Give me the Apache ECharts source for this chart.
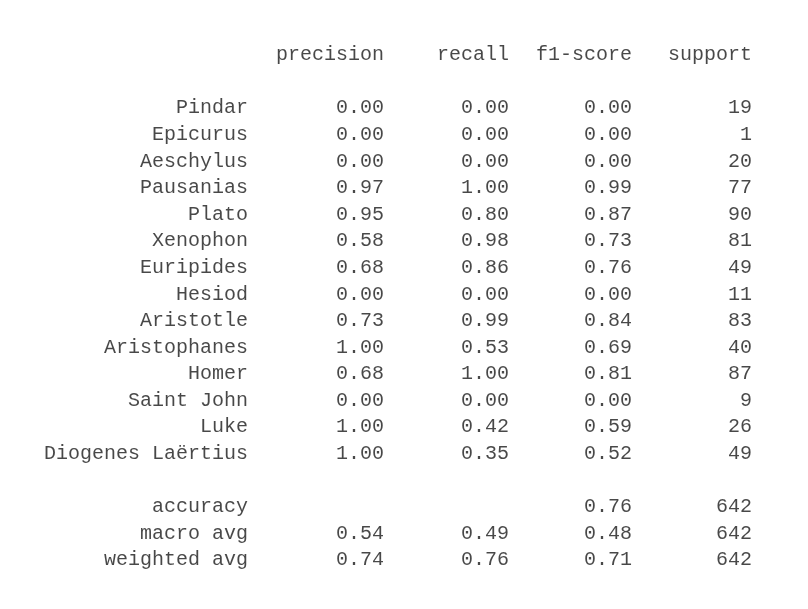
<!DOCTYPE html>
<html>
<head>
<meta charset="utf-8">
<script src="https://cdn.jsdelivr.net/npm/echarts@6/dist/echarts.min.js"></script>
<style>html,body{margin:0;background:#fff}#c{width:808px;height:609px}</style>
</head>
<body>
<div id="c"></div>
<script>
// classification report values
var headers = ['', 'precision', 'recall', 'f1-score', 'support'];
var classes = ['Pindar', 'Epicurus', 'Aeschylus', 'Pausanias', 'Plato', 'Xenophon', 'Euripides',
    'Hesiod', 'Aristotle', 'Aristophanes', 'Homer', 'Saint John', 'Luke', 'Diogenes Laërtius'];
var precision = [0.00, 0.00, 0.00, 0.97, 0.95, 0.58, 0.68, 0.00, 0.73, 1.00, 0.68, 0.00, 1.00, 1.00];
var recall    = [0.00, 0.00, 0.00, 1.00, 0.80, 0.98, 0.86, 0.00, 0.99, 0.53, 1.00, 0.00, 0.42, 0.35];
var f1        = [0.00, 0.00, 0.00, 0.99, 0.87, 0.73, 0.76, 0.00, 0.84, 0.69, 0.81, 0.00, 0.59, 0.52];
var support   = [19, 1, 20, 77, 90, 81, 49, 11, 83, 40, 87, 9, 26, 49];
var summaryNames = ['accuracy', 'macro avg', 'weighted avg'];
var summaryPrecision = [null, 0.54, 0.74];
var summaryRecall = [null, 0.49, 0.76];
var summaryF1 = [0.76, 0.48, 0.71];
var summarySupport = [642, 642, 642];

var colShift = [0, 10, 9, 6, 0];

var myChart = echarts.init(document.getElementById('c'));

var rows = ['h', 'b1'];
var data = [];
function fmt(v) { return v == null ? '' : v.toFixed(2); }
function pushRow(key, cells) {
    cells.forEach(function (t, i) {
        if (t === '') return;
        data.push({ value: [i, key, t], label: { offset: [colShift[i], 0] } });
    });
}
pushRow('h', headers);
classes.forEach(function (n, i) {
    var k = 'c' + i;
    rows.push(k);
    pushRow(k, [n, fmt(precision[i]), fmt(recall[i]), fmt(f1[i]), String(support[i])]);
});
rows.push('b2');
summaryNames.forEach(function (n, i) {
    var k = 's' + i;
    rows.push(k);
    pushRow(k, [n, fmt(summaryPrecision[i]), fmt(summaryRecall[i]), fmt(summaryF1[i]), String(summarySupport[i])]);
});

var option = {
    animation: false,
    grid: { left: 248, right: 56, top: 55, bottom: 49 },
    xAxis: { type: 'category', data: [0, 1, 2, 3, 4], boundaryGap: false, show: false },
    yAxis: { type: 'category', data: rows, boundaryGap: false, inverse: true, show: false },
    series: [{
        type: 'scatter',
        symbolSize: 0,
        data: data,
        label: {
            show: true,
            position: 'inside',
            align: 'right',
            verticalAlign: 'middle',
            fontFamily: 'Liberation Mono, monospace',
            fontSize: 20,
            color: '#1a1a1a',
            formatter: function (p) { return p.value[2]; }
        }
    }]
};
myChart.setOption(option);
</script>
</body>
</html>
